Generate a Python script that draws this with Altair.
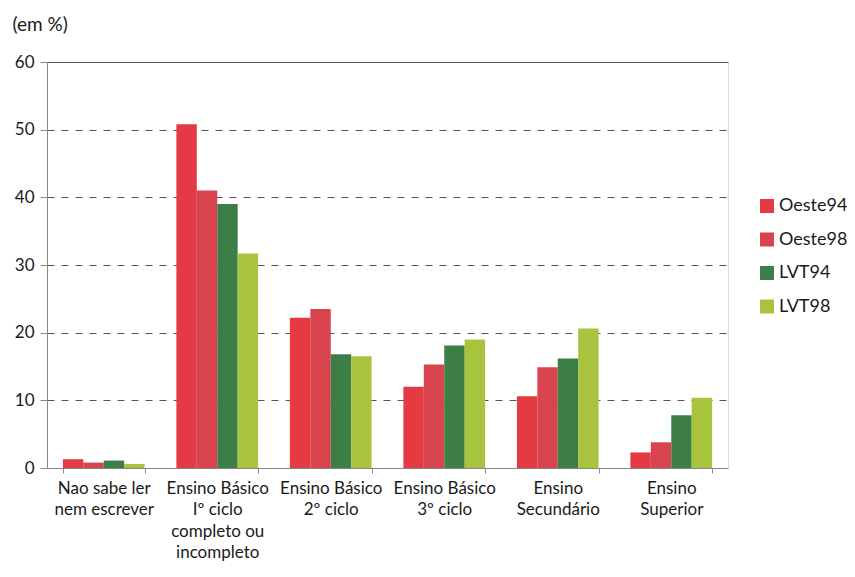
import altair as alt
import pandas as pd

categories = [
    "Nao sabe ler\nnem escrever",
    "Ensino Básico\nIº ciclo\ncompleto ou\nincompleto",
    "Ensino Básico\n2º ciclo",
    "Ensino Básico\n3º ciclo",
    "Ensino\nSecundário",
    "Ensino\nSuperior",
]
series = ["Oeste94", "Oeste98", "LVT94", "LVT98"]
oeste94 = [1.3, 50.8, 22.2, 12.0, 10.6, 2.3]
oeste98 = [0.8, 41.0, 23.5, 15.3, 14.9, 3.8]
lvt94 = [1.1, 39.0, 16.8, 18.1, 16.2, 7.8]
lvt98 = [0.6, 31.7, 16.5, 19.0, 20.6, 10.4]
colors = ["#e33a43", "#d8444e", "#3d7e47", "#a8c43e"]
y_ticks = [0, 10, 20, 30, 40, 50, 60]

rows = []
for s, vals in zip(series, [oeste94, oeste98, lvt94, lvt98]):
    for c, v in zip(categories, vals):
        rows.append({"categoria": c, "serie": s, "valor": v})
df = pd.DataFrame(rows)

FONT = "Lato"
TXT = "#1a1a1a"

bars = alt.Chart(df).mark_bar(stroke=None).encode(
    x=alt.X(
        "categoria:N",
        sort=categories,
        scale=alt.Scale(paddingInner=0.28, paddingOuter=0.14),
        axis=alt.Axis(
            title=None,
            labelAngle=0,
            labelExpr="isValid(datum.value) ? split(datum.value, '\\n') : ''",
            labelFontSize=17,
            labelLineHeight=21.5,
            labelColor=TXT,
            labelFont=FONT,
            labelPadding=7,
            tickBand="extent",
            tickSize=5,
            tickColor="#888888",
            domainColor="#888888",
            grid=False,
        ),
    ),
    xOffset=alt.XOffset("serie:N", sort=series),
    y=alt.Y(
        "valor:Q",
        scale=alt.Scale(domain=[0, 60], nice=False),
        axis=alt.Axis(
            values=y_ticks,
            title="(em %)",
            titleAngle=0,
            titleAlign="left",
            titleBaseline="middle",
            titleX=-35,
            titleY=-38,
            titleFontSize=19,
            titleFontWeight="normal",
            titleFont=FONT,
            titleColor=TXT,
            labelFontSize=17,
            labelFont=FONT,
            labelColor=TXT,
            labelPadding=6,
            tickSize=7,
            tickColor="#888888",
            domainColor="#888888",
            gridColor="#555555",
            gridDash={"condition": {"test": "datum.value === 60", "value": []}, "value": [7, 7]},
            gridWidth=1,
        ),
    ),
    color=alt.Color(
        "serie:N",
        sort=series,
        scale=alt.Scale(domain=series, range=colors),
        legend=alt.Legend(
            title=None,
            orient="none",
            legendX=711,
            legendY=135,
            symbolType="square",
            symbolSize=196,
            symbolStrokeWidth=0,
            labelFontSize=18,
            labelFont=FONT,
            labelColor=TXT,
            rowPadding=15.5,
            labelOffset=3,
        ),
    ),
)

chart = bars.properties(
    width=681,
    height=406,
    autosize=alt.AutoSizeParams(type="none"),
    padding={"left": 39, "top": 54, "right": 119, "bottom": 100},
).configure_view(
    stroke="#999999",
    strokeWidth=1,
).configure(background="white")

chart.save("out.html", embed_options={"renderer": "svg", "actions": False})
